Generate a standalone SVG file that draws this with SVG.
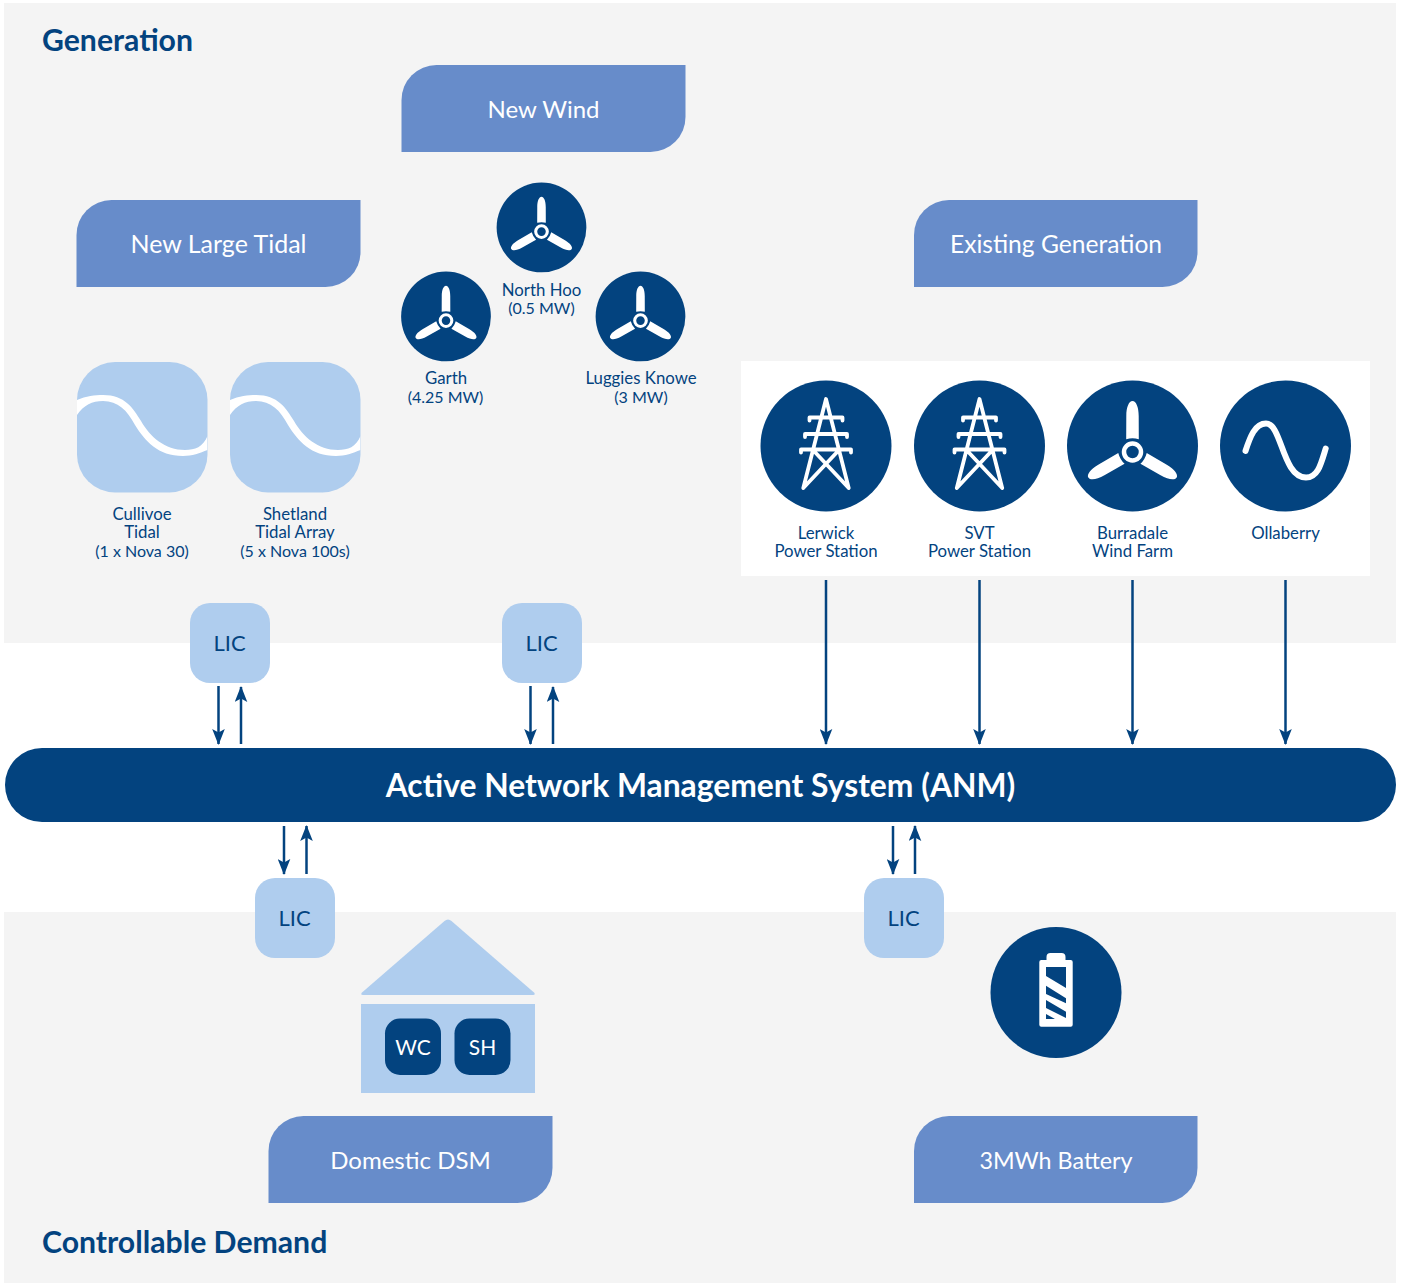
<svg xmlns="http://www.w3.org/2000/svg" xmlns:xlink="http://www.w3.org/1999/xlink" width="1402" height="1283" viewBox="0 0 1402 1283">
<style>
text{font-family:"Lato","Open Sans","Liberation Sans",sans-serif;text-anchor:middle;fill:#03437f}
.h{font-size:30.200px;font-weight:700;text-anchor:start}
.tab{fill:#678cca}
.tt{font-size:24px;fill:#fff}
.l{font-size:16.800px}
.n{font-size:16px}
.lic{fill:#afcdee}
.lt{font-size:22px}
.d{fill:#03437f}
.conn{stroke:#03437f;stroke-width:2.500;fill:none;marker-end:url(#ah)}
.w{fill:#fff}
.ws{stroke:#fff;fill:none;stroke-linecap:round;stroke-linejoin:round}
.wt{font-size:21px;fill:#fff}
</style>
<defs>
<marker id="ah" markerUnits="userSpaceOnUse" markerWidth="16" markerHeight="13" refX="15" refY="6.500" orient="auto" viewBox="0 0 16 13"><path d="M0 0.200L16 6.500L0 12.800L3.500 6.500Z" fill="#03437f"/></marker>
<g id="turbine">
<circle cx="0" cy="-6" r="65.500" class="d"/>
<circle r="8.500" fill="none" stroke="#fff" stroke-width="4.500"/>
<path id="blade" class="w" d="M-6.300-12.800L-6.200-36C-6.200-45-3.500-51 0-51C3.500-51 6.200-45 6.200-36L6.300-12.800Q0-14.500-6.300-12.800Z"/>
<use xlink:href="#blade" href="#blade" transform="rotate(120)"/>
<use xlink:href="#blade" href="#blade" transform="rotate(240)"/>
</g>
<g id="pylon">
<circle cx="0" cy="0" r="65.500" class="d"/>
<path class="ws" stroke-width="3.800" d="M-22.700 42L0-47L22.700 42M-16.500-25.500V-28.500H16.500V-25.500M-21-9V-12H21V-9M-25 6.500V3.500H25V6.500M-13.500 3.500L22.700 42M13.500 3.500L-22.700 42"/>
</g>
<clipPath id="tc"><rect x="0" y="0" width="130.500" height="130.500" rx="38"/></clipPath>
<g id="tide">
<rect width="130.500" height="130.500" rx="38" class="lic"/>
<path clip-path="url(#tc)" class="w" d="M0 38C9 34 18 33 26 33C48 33 56 46 64 59C73 75 88 88 108 88C118 88 126 85 130.500 74V88C123 91 115 94 106 94C81 94 68 79 58 63C50 48 41 39 26 39C15 39 7 43 0 53Z"/>
</g>
</defs>

<g id="panels">
<rect x="4" y="3" width="1392" height="640" fill="#f4f4f4"/>
<rect x="4" y="912" width="1392" height="371" fill="#f4f4f4"/>
<rect x="741" y="361" width="629" height="215" fill="#fff"/>
</g>
<text class="h" x="42" y="51">Generation</text>
<text class="h" x="42" y="1253">Controllable Demand</text>

<g id="tab-new-wind"><path class="tab" d="M401.500 152V100A35 35 0 0 1 436.500 65H685.500V117A35 35 0 0 1 650.500 152Z"/><text class="tt" x="543.500" y="118">New Wind</text></g>
<g id="tab-new-large-tidal"><path class="tab" d="M76.500 287V235A35 35 0 0 1 111.500 200H360.500V252A35 35 0 0 1 325.500 287Z"/><text class="tt" x="218.500" y="253" style="font-size:25px">New Large Tidal</text></g>
<g id="tab-existing"><path class="tab" d="M914 287V235A35 35 0 0 1 949 200H1197.500V252A35 35 0 0 1 1162.500 287Z"/><text class="tt" x="1056" y="253" style="font-size:24.600px">Existing Generation</text></g>
<g id="tab-dsm"><path class="tab" d="M268.500 1203V1151A35 35 0 0 1 303.500 1116H552.500V1168A35 35 0 0 1 517.500 1203Z"/><text class="tt" x="410.500" y="1169">Domestic DSM</text></g>
<g id="tab-battery"><path class="tab" d="M914 1203V1151A35 35 0 0 1 949 1116H1197.500V1168A35 35 0 0 1 1162.500 1203Z"/><text class="tt" x="1056" y="1169" style="font-size:23.300px">3MWh Battery</text></g>

<g id="north-hoo"><use xlink:href="#turbine" href="#turbine" transform="translate(541.500 231.600) scale(.685)"/><text class="l" x="541.500" y="296">North Hoo</text><text class="n" x="541.500" y="314">(0.5 MW)</text></g>
<g id="garth"><use xlink:href="#turbine" href="#turbine" transform="translate(446 320.600) scale(.685)"/><text class="l" x="446" y="384">Garth</text><text class="n" x="445.500" y="403">(4.25 MW)</text></g>
<g id="luggies"><use xlink:href="#turbine" href="#turbine" transform="translate(640.500 320.600) scale(.685)"/><text class="l" x="641" y="384">Luggies Knowe</text><text class="n" x="641" y="403">(3 MW)</text></g>

<g id="cullivoe"><use xlink:href="#tide" href="#tide" x="77" y="362"/><text class="l" x="142" y="520">Cullivoe</text><text class="l" x="142" y="538">Tidal</text><text class="n" x="142" y="557">(1 x Nova 30)</text></g>
<g id="shetland"><use xlink:href="#tide" href="#tide" x="230" y="362"/><text class="l" x="295" y="520">Shetland</text><text class="l" x="295" y="538">Tidal Array</text><text class="n" x="295" y="557">(5 x Nova 100s)</text></g>

<g id="lerwick"><use xlink:href="#pylon" href="#pylon" x="826" y="446"/><text class="l" x="826" y="539">Lerwick</text><text class="l" x="826" y="557">Power Station</text></g>
<g id="svt"><use xlink:href="#pylon" href="#pylon" x="979.500" y="446"/><text class="l" x="979.500" y="539">SVT</text><text class="l" x="979.500" y="557">Power Station</text></g>
<g id="burradale"><use xlink:href="#turbine" href="#turbine" x="1132.500" y="452"/><text class="l" x="1132.500" y="539">Burradale</text><text class="l" x="1132.500" y="557">Wind Farm</text></g>
<g id="ollaberry"><circle cx="1285.500" cy="446" r="65.500" class="d"/><path class="ws" stroke-width="6" d="M1245.500 451C1250 437 1255 423.500 1266 423.500C1282 423.500 1282 477 1306 477.500C1318 477.500 1321 464 1325.700 448.500"/><text class="l" x="1285.500" y="539">Ollaberry</text></g>

<g id="lic-1"><rect class="lic" x="190" y="603" width="80" height="80" rx="20"/><text class="lt" x="229.500" y="651">LIC</text></g>
<g id="lic-2"><rect class="lic" x="502" y="603" width="80" height="80" rx="20"/><text class="lt" x="541.500" y="651">LIC</text></g>
<g id="lic-3"><rect class="lic" x="255" y="878" width="80" height="80" rx="20"/><text class="lt" x="294.500" y="926">LIC</text></g>
<g id="lic-4"><rect class="lic" x="864" y="878" width="80" height="80" rx="20"/><text class="lt" x="903.500" y="926">LIC</text></g>

<g id="anm"><rect x="5" y="748" width="1391" height="74" rx="37" class="d"/><text x="700.500" y="797" font-size="31.800" font-weight="700" style="fill:#fff">Active Network Management System (ANM)</text></g>

<g id="house">
<path class="lic" d="M444.500 921Q448 918 451.500 921L534 992.500Q536 995 533 995H363Q360 995 362 992.500Z"/>
<rect class="lic" x="361" y="1004" width="174" height="89"/>
<rect class="d" x="385" y="1018.500" width="56" height="56.500" rx="15"/>
<rect class="d" x="454.500" y="1018.500" width="56" height="56.500" rx="15"/>
<text class="wt" x="413" y="1055">WC</text>
<text class="wt" x="482.500" y="1055">SH</text>
</g>

<g id="battery">
<circle cx="1056" cy="992.500" r="65.500" class="d"/>
<path class="w" d="M1046.500 960V957Q1046.500 953 1050.500 953H1061.500Q1065.500 953 1065.500 957V960H1070.700Q1072.700 960 1072.700 962V1024.700Q1072.700 1026.700 1070.700 1026.700H1041.300Q1039.300 1026.700 1039.300 1024.700V962Q1039.300 960 1041.300 960Z"/>
<path class="d" d="M1046 967H1066V988L1046 976ZM1046 985.700L1066 998.300V1003.300L1046 994ZM1046 1000L1066 1011.700V1018L1046 1008ZM1046 1014L1055 1019H1046Z"/>
</g>

<g id="connectors">
<path class="conn" d="M218.500 686V744"/>
<path class="conn" d="M241 744V687"/>
<path class="conn" d="M530.500 686V744"/>
<path class="conn" d="M553 744V687"/>
<path class="conn" d="M826 580V744"/>
<path class="conn" d="M979.500 580V744"/>
<path class="conn" d="M1132.500 580V744"/>
<path class="conn" d="M1285.500 580V744"/>
<path class="conn" d="M284 826V874"/>
<path class="conn" d="M306.500 874V826"/>
<path class="conn" d="M893 826V874"/>
<path class="conn" d="M915 874V826"/>
</g>
</svg>
